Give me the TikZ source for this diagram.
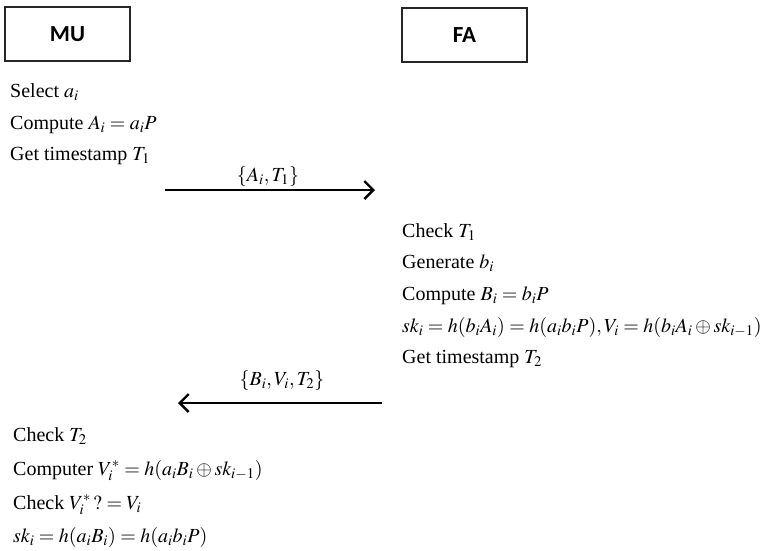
\documentclass[tikz,border=0pt]{standalone}
\usepackage{mathptmx}
\usepackage[no-math]{fontspec}
\setmainfont{Liberation Serif}
\newfontfamily\boxfont{Carlito}
\usetikzlibrary{arrows.meta}
\begin{document}
\begin{tikzpicture}[x=1pt,y=-1pt,
  txt/.style={anchor=base west,inner sep=0pt,font=\fontsize{20}{24}\selectfont},
  lbl/.style={anchor=base,inner sep=0pt,font=\fontsize{20}{24}\selectfont},
  party/.style={draw=black!85,line width=1.6pt,minimum width=125pt,minimum height=54pt,inner sep=0pt,font=\boxfont\bfseries\fontsize{23}{26}\selectfont},
  msg/.style={line width=2.8pt,-{Straight Barb[length=9pt,width=18pt,line width=2.4pt]}}]
\useasboundingbox (0,0) rectangle (764,550);
\node[party] (mu) at (67.5,34) {MU};
\node[party] (fa) at (464.5,35) {FA};
% MU side
\node[txt] (m1) at (10,97) {Select $a_i$};
\node[txt] (m2) at (10,129) {Compute $A_i = a_iP$};
\node[txt] (m3) at (10,160) {Get timestamp $T_1$};
% message 1
\coordinate (s1) at (165,190);
\coordinate (e1) at (375,190);
\draw[msg] (s1) -- (e1);
\node[lbl] (l1) at (268,181) {$\{A_i, T_1\}$};
% FA side
\node[txt] (f1) at (402,237) {Check $T_1$};
\node[txt] (f2) at (402,268) {Generate $b_i$};
\node[txt] (f3) at (402,300) {Compute $B_i = b_iP$};
\node[txt] (f4) at (402,332) {$sk_i = h(b_iA_i) = h(a_ib_iP), V_i = h(b_iA_i \oplus sk_{i-1})$};
\node[txt] (f5) at (402,363) {Get timestamp $T_2$};
% message 2
\coordinate (s2) at (382,403);
\coordinate (e2) at (178,403);
\draw[msg] (s2) -- (e2);
\node[lbl] (l2) at (282,385) {$\{B_i, V_i, T_2\}$};
% MU side, end
\node[txt] (m4) at (13,441) {Check $T_2$};
\node[txt] (m5) at (13,475) {Computer $V_i^* = h(a_iB_i \oplus sk_{i-1})$};
\node[txt] (m6) at (13,509) {Check $V_i^*\,?= V_i$};
\node[txt] (m7) at (13,542) {$sk_i = h(a_iB_i) = h(a_ib_iP)$};
\end{tikzpicture}
\end{document}
